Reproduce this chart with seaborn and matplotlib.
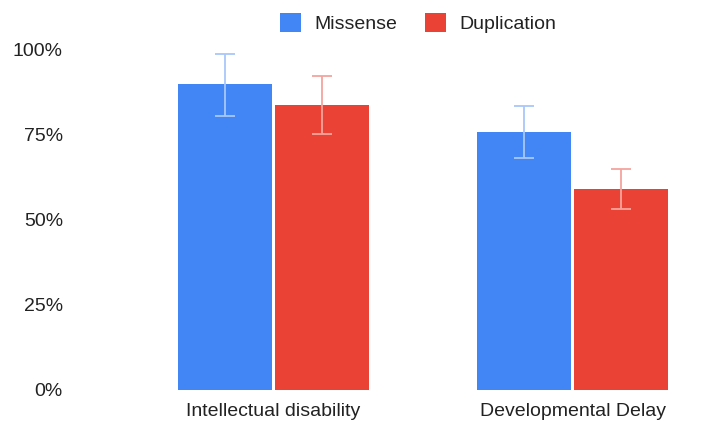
import matplotlib
matplotlib.use("Agg")
import matplotlib.pyplot as plt
from matplotlib.patches import Patch
import seaborn as sns
import pandas as pd

# Share of patients with each phenotype, per variant type (percent)
conditions = ["Intellectual disability", "Developmental Delay"]
groups = ["Missense", "Duplication"]
missense = [89.7, 75.7]
duplication = [83.6, 58.9]
missense_low = [80.4, 68.0]
missense_high = [98.5, 83.4]
duplication_low = [75.1, 53.1]
duplication_high = [92.1, 64.9]
y_ticks = [0, 25, 50, 75, 100]
y_tick_labels = ["0%", "25%", "50%", "75%", "100%"]

bar_colors = {"Missense": "#4285F4", "Duplication": "#EA4335"}
err_colors = {"Missense": "#A9C7FA", "Duplication": "#F4A49D"}
text_color = "#222222"

df = pd.DataFrame({
    "condition": conditions * 2,
    "group": [groups[0]] * 2 + [groups[1]] * 2,
    "value": missense + duplication,
})
bounds = {
    "Missense": (missense_low, missense_high),
    "Duplication": (duplication_low, duplication_high),
}

sns.set_theme(style="white")
plt.rcParams["font.family"] = ["Liberation Sans", "DejaVu Sans"]

fig = plt.figure(figsize=(7.22, 4.21), dpi=100)
ax = fig.add_axes([124 / 722, 31 / 421, 598 / 722, 341 / 421])

sns.barplot(data=df, x="condition", y="value", hue="group",
            order=conditions, hue_order=groups, palette=bar_colors,
            width=0.655, gap=0.04, errorbar=None, saturation=1,
            linewidth=0, legend=False, ax=ax)

# Confidence intervals drawn on top of each bar
for container, grp in zip(ax.containers, groups):
    lows, highs = bounds[grp]
    for bar, lo, hi in zip(container, lows, highs):
        x = bar.get_x() + bar.get_width() / 2
        y = bar.get_height()
        ax.errorbar(x, y, yerr=[[y - lo], [hi - y]], fmt="none",
                    ecolor=err_colors[grp], elinewidth=1.3,
                    capsize=7.2, capthick=1.3, zorder=5)

ax.set_ylim(0, 100)
ax.set_xlim(-0.5, 1.5)
ax.set_yticks(y_ticks)
ax.set_yticklabels(y_tick_labels)
ax.set_xlabel("")
ax.set_ylabel("")
ax.tick_params(axis="y", length=0, pad=44, labelsize=14, labelcolor=text_color)
ax.tick_params(axis="x", length=0, pad=9.5, labelsize=14, labelcolor=text_color)
ax.grid(False)
sns.despine(ax=ax, left=True, bottom=True)

handles = [Patch(facecolor=bar_colors[g], edgecolor="none", label=g) for g in groups]
leg = fig.legend(handles=handles, loc="center", bbox_to_anchor=(418 / 722, 1 - 23 / 421),
                 ncol=2, frameon=False, fontsize=14, handlelength=1.08, handleheight=1.08,
                 handletextpad=0.7, columnspacing=1.4)
for t in leg.get_texts():
    t.set_color(text_color)

fig.savefig("out.png", dpi=100, facecolor="white")
